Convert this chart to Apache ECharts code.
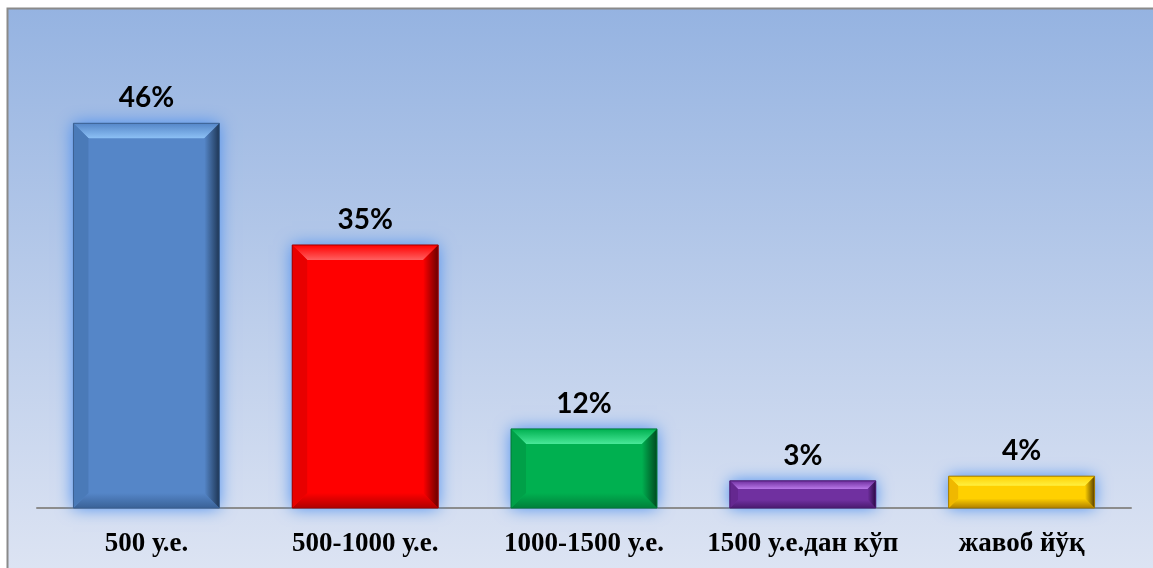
<!DOCTYPE html>
<html><head><meta charset="utf-8">
<script src="https://cdn.jsdelivr.net/npm/echarts@6/dist/echarts.min.js"></script>
<style>html,body{margin:0;padding:0;background:#fff}#c{width:1153px;height:568px}</style>
</head><body><div id="c"></div>
<script>
// Category labels
const categories = ['500 у.е.', '500-1000 у.е.', '1000-1500 у.е.', '1500 у.е.дан кўп', 'жавоб йўқ'];
// Printed data labels (percent)
const shares = [46, 35, 12, 3, 4];
// Bar heights as drawn in the picture (axis units, axis 0..50)
const barHeights = [41.1, 28.1, 8.45, 2.9, 3.4];

const palettes = [
  {main:'#5586C8', light:'#8CC0F5', dark:'#3A6298', right:'#1E3655', left:'#4A7AB8', outline:'#3B5F8F'},
  {main:'#FF0000', light:'#FF6060', dark:'#B00000', right:'#6A0000', left:'#E80000', outline:'#A00000'},
  {main:'#00B050', light:'#48E898', dark:'#00803A', right:'#004A20', left:'#00A048', outline:'#007A38'},
  {main:'#7030A0', light:'#B878E8', dark:'#4A1A70', right:'#2A0A45', left:'#652890', outline:'#4A1A70'},
  {main:'#FFD000', light:'#FFF040', dark:'#B08000', right:'#5A4000', left:'#F0B800', outline:'#A07800'}
];

function lg(x1, y1, x2, y2, c1, c2) {
  return new echarts.graphic.LinearGradient(x1, y1, x2, y2, [{offset:0, color:c1}, {offset:1, color:c2}]);
}

function renderItem(params, api) {
  const i = api.value(0);
  const v = api.value(1);
  const top = api.coord([i, v]);
  const base = api.coord([i, 0]);
  const w = api.size([1, 0])[0] * 0.667;
  const x0 = top[0] - w / 2, x1 = top[0] + w / 2, y0 = top[1], y1 = base[1];
  const h = y1 - y0;
  const b = Math.min(15, h * 0.3);
  const p = palettes[i];
  return {
    type: 'group',
    children: [
      {type:'rect', shape:{x:x0, y:y0, width:w, height:h},
       style:{fill:p.main, shadowBlur:16, shadowColor:'rgba(70,140,240,1)'}},
      {type:'polygon', shape:{points:[[x0,y0],[x1,y0],[x1-b,y0+b],[x0+b,y0+b]]},
       style:{fill: lg(0,0,0,1,p.main,p.light)}},
      {type:'polygon', shape:{points:[[x0,y1],[x1,y1],[x1-b,y1-b],[x0+b,y1-b]]},
       style:{fill: lg(0,1,0,0,p.dark,p.main)}},
      {type:'polygon', shape:{points:[[x0,y0],[x0+b,y0+b],[x0+b,y1-b],[x0,y1]]},
       style:{fill: p.left}},
      {type:'polygon', shape:{points:[[x1,y0],[x1-b,y0+b],[x1-b,y1-b],[x1,y1]]},
       style:{fill: lg(1,0,0,0,p.right,p.main)}},
      {type:'rect', shape:{x:x0, y:y0, width:w, height:h},
       style:{fill:'none', stroke:p.outline, lineWidth:1}},
      {type:'text', style:{text: shares[i] + '%', x: top[0], y: y0 - 11,
        align:'center', verticalAlign:'bottom', fontSize:28, fontWeight:'bold',
        fontFamily:'Lato', fill:'#000'}}
    ]
  };
}

const chart = echarts.init(document.getElementById('c'));
chart.setOption({
  animation: false,
  backgroundColor: '#ffffff',
  graphic: [{
    type:'rect', z:-10, silent:true,
    shape:{x:7.5, y:8.5, width:1150, height:565},
    style:{fill: lg(0,0,0,1,'#95B3E1','#DDE4F3'), stroke:'#8a8a8a', lineWidth:2}
  }],
  grid: {left:37, right:22, top:40, bottom:60},
  xAxis: {
    type:'category', data: categories,
    axisLine:{lineStyle:{color:'#8c8c8c', width:2}},
    axisTick:{show:false},
    axisLabel:{interval:0, hideOverlap:false, color:'#000', fontFamily:'Liberation Serif',
      fontWeight:'bold', fontSize:27, margin:23}
  },
  yAxis: {type:'value', min:0, max:50, show:false, splitLine:{show:false}},
  series: [{
    type:'custom',
    renderItem: renderItem,
    data: barHeights.map((v, i) => [i, v]),
    z: 3
  }]
});
</script></body></html>
